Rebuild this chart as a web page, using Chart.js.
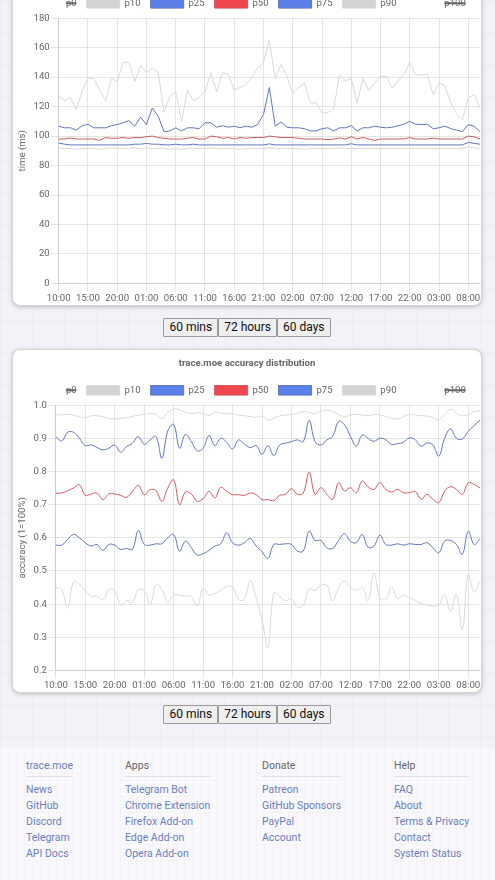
<!DOCTYPE html>
<html>
<head>
<meta charset="utf-8">
<script src="https://cdn.jsdelivr.net/npm/chart.js@4.4.0/dist/chart.umd.min.js"></script>
<style>
  body {
    margin: 0;
    font-family: Roboto, "Noto Sans", sans-serif;
    background-color: #f2f2f8;
    background-image:
      linear-gradient(rgba(0,0,0,0.018) 1px, transparent 1px),
      linear-gradient(90deg, rgba(0,0,0,0.018) 1px, transparent 1px);
    background-size: 32px 32px;
    overflow: hidden;
  }
  .wrap { margin: -38px 13px 0 12px; }
  .card {
    background: #fff;
    border: 1px solid #d4d4d4;
    border-radius: 8px;
    box-shadow: 0 1px 4px rgba(0,0,0,0.22);
    height: 342px;
    overflow: hidden;
  }
  .card canvas { display: block; }
  .btns { display: flex; justify-content: center; margin: 12px 0 12px 0; }
  .btns button {
    font-family: Roboto, sans-serif;
    font-size: 12px;
    color: #111;
    background: #efefef;
    border: 1px solid #9a9a9a;
    border-radius: 1px;
    height: 19px;
    padding: 0 5px;
    margin: 0;
    line-height: 17px;
  }
  .btns.last { margin-bottom: 24px; }
  footer {
    position: relative;
    height: 140px;
    background-color: #f9f9fd;
    background-image:
      linear-gradient(rgba(0,0,0,0.018) 1px, transparent 1px),
      linear-gradient(90deg, rgba(0,0,0,0.018) 1px, transparent 1px);
    background-size: 8px 8px;
  }
  .col { position: absolute; top: 11px; }
  .col h4 {
    margin: 0 0 5px 0;
    font-weight: 400;
    font-size: 10.5px;
    line-height: 14px;
    color: #666;
    padding-bottom: 3px;
    border-bottom: 1px solid #e0e0e8;
  }
  .col h4.brand { color: #6c7fb8; }
  .col a {
    display: block;
    font-size: 10.5px;
    line-height: 16px;
    color: #6c7fb8;
    text-decoration: none;
    white-space: nowrap;
  }
</style>
</head>
<body>
<div class="wrap">
  <div class="card"><canvas id="chartTime" width="468" height="342"></canvas></div>
  <div class="btns"><button>60 mins</button><button>72 hours</button><button>60 days</button></div>
  <div class="card"><canvas id="chartAccuracy" width="468" height="342"></canvas></div>
  <div class="btns last"><button>60 mins</button><button>72 hours</button><button>60 days</button></div>
</div>
<footer>
  <div class="col" style="left:26px">
    <h4 class="brand">trace.moe</h4>
    <a>News</a><a>GitHub</a><a>Discord</a><a>Telegram</a><a>API Docs</a>
  </div>
  <div class="col" style="left:125px">
    <h4>Apps</h4>
    <a>Telegram Bot</a><a>Chrome Extension</a><a>Firefox Add-on</a><a>Edge Add-on</a><a>Opera Add-on</a>
  </div>
  <div class="col" style="left:262px">
    <h4>Donate</h4>
    <a>Patreon</a><a>GitHub Sponsors</a><a>PayPal</a><a>Account</a>
  </div>
  <div class="col" style="left:394px">
    <h4>Help</h4>
    <a>FAQ</a><a>About</a><a>Terms &amp; Privacy</a><a>Contact</a><a>System Status</a>
  </div>
</footer>

<script>
// horas (eixo x) - 73 pontos, de 10:00 até 10:00 três dias depois
var horas = [
  '10:00','11:00','12:00','13:00','14:00','15:00','16:00','17:00','18:00','19:00','20:00','21:00','22:00','23:00',
  '00:00','01:00','02:00','03:00','04:00','05:00','06:00','07:00','08:00','09:00','10:00','11:00','12:00','13:00',
  '14:00','15:00','16:00','17:00','18:00','19:00','20:00','21:00','22:00','23:00','00:00','01:00','02:00','03:00',
  '04:00','05:00','06:00','07:00','08:00','09:00','10:00','11:00','12:00','13:00','14:00','15:00','16:00','17:00',
  '18:00','19:00','20:00','21:00','22:00','23:00','00:00','01:00','02:00','03:00','04:00','05:00','06:00','07:00',
  '08:00','09:00','10:00'
];

var percentis = ['p0', 'p10', 'p25', 'p50', 'p75', 'p90', 'p100'];

// primeiro gráfico - tempo (ms)
var tempo_p10 = [
  92, 91.5, 91.5, 91, 91.5, 91.5, 91.5, 91, 91.5, 92, 91.5, 91.5, 91.5, 92, 91.5, 92, 91.5, 91.5, 91.5, 91, 91.5,
  91, 91.5, 91.5, 91.5, 91.5, 92, 91.5, 91.5, 91.5, 91.5, 91, 91.5, 91.5, 91.5, 91.5, 92, 91.5, 91.5, 91.5, 91.5,
  91.5, 91, 91.5, 91.5, 91.5, 91.5, 91.5, 92, 91.5, 91.5, 91.5, 91.5, 91.5, 91.5, 91.5, 91.5, 91.5, 91.5, 91.5,
  91.5, 91.5, 91.5, 91.5, 91.5, 91.5, 91.5, 91.5, 91.5, 91.5, 92.5, 92, 91.5
];
var tempo_p25 = [
  95.2, 94.5, 94, 94, 94, 94, 94, 94, 94, 94, 94, 94, 94, 94.5, 94.5, 95, 94.5, 94.5, 94, 94, 94.5, 94, 94, 94.5,
  94, 94, 94, 94, 94, 94, 94, 94, 94, 94, 94, 94, 94.7, 94, 94, 94, 94, 94, 94, 94, 94, 94, 94, 94, 94, 94,
  94.8, 94, 94, 94, 94, 94, 94, 94, 94, 94, 94, 94, 94, 94, 94, 94, 94, 94, 94, 94, 95.7, 95, 94.5
];
var tempo_p50 = [
  98, 98, 98.7, 98, 98, 98, 98, 97, 99, 98.5, 98.5, 99, 98.5, 99, 99, 99.5, 100, 99, 98.5, 98, 98, 98, 98.5,
  99, 98, 98, 100, 99.5, 98.5, 99, 98, 99, 98.5, 99, 99, 99, 100, 99.5, 99, 99, 99, 98.5, 98, 98, 98, 98,
  97.5, 98, 98.7, 98, 99.5, 98, 99, 98, 97, 98, 98, 98, 98, 98, 99, 98, 98, 98, 98.5, 98, 98, 98, 98, 98,
  100, 99.5, 98
];
var tempo_p75 = [
  106.7, 105.6, 105.6, 104, 107, 108, 105.6, 105.6, 105.6, 107, 107.8, 109, 110.5, 106.7, 112.8, 107.8, 119,
  113.5, 103, 103.5, 105.6, 103.5, 105.6, 105.6, 105, 109, 109, 106, 107, 106, 106.7, 105.6, 106.7, 106, 107.8,
  114.6, 133, 106.7, 109.6, 106, 105.6, 105.6, 105, 103.5, 103.5, 105, 105.6, 103.5, 105.6, 105.6, 107, 103.5,
  105.6, 105.6, 106.7, 106, 105.6, 106, 107, 108, 110, 108, 107.8, 108, 105, 105.6, 106.7, 105, 104, 103,
  107.8, 106.7, 103
];
var tempo_p90 = [
  127, 124, 126, 118, 130, 139.5, 139, 131, 124, 139, 137, 150, 150, 137, 148, 143, 146, 143, 116, 127, 130,
  110, 131, 124, 126, 130, 143, 130, 143, 142, 131, 133, 135, 140, 146, 150, 165, 139, 148.5, 140.5, 129, 133,
  136, 122.5, 122.5, 115.5, 116, 118, 142, 137.5, 139, 122.5, 139, 131, 136, 140.5, 140.5, 132.5, 137.5,
  141.5, 150, 141.5, 141.5, 142, 128, 136, 134, 122.5, 115, 111, 126, 128, 119
];

// segundo gráfico - precisão (1 = 100%)
var precisao_p10 = [
  .451, .444, .387, .467, .46, .441, .424, .424, .414, .444, .441, .397, .411, .405, .444, .441, .399, .46,
  .444, .405, .427, .427, .424, .424, .394, .447, .427, .432, .441, .454, .451, .414, .414, .471, .42, .354,
  .269, .434, .424, .41, .417, .391, .397, .447, .441, .457, .457, .41, .45, .47, .451, .441, .451, .41, .495,
  .42, .414, .45, .417, .427, .42, .411, .401, .397, .394, .397, .43, .377, .43, .324, .49, .437, .47
];
var precisao_p25 = [
  .578, .578, .595, .61, .60, .585, .575, .58, .562, .58, .578, .565, .568, .565, .622, .58, .578, .582, .582,
  .60, .61, .56, .59, .57, .548, .552, .562, .575, .582, .615, .585, .578, .585, .598, .575, .558, .538, .58,
  .58, .582, .58, .56, .56, .62, .592, .592, .57, .568, .592, .612, .59, .585, .61, .572, .575, .608, .58,
  .578, .582, .578, .582, .58, .58, .585, .57, .555, .59, .592, .58, .55, .62, .58, .598
];
var precisao_p50 = [
  .735, .735, .742, .75, .76, .728, .732, .735, .715, .732, .732, .728, .722, .74, .758, .73, .745, .742, .71,
  .75, .775, .70, .738, .732, .71, .718, .74, .72, .752, .74, .73, .73, .728, .735, .73, .715, .715, .712, .728,
  .731, .748, .731, .735, .798, .731, .751, .731, .716, .766, .741, .751, .736, .771, .754, .746, .766, .746,
  .738, .746, .736, .736, .74, .716, .731, .716, .706, .741, .754, .746, .731, .766, .761, .751
];
var precisao_p75 = [
  .905, .892, .918, .918, .90, .878, .88, .872, .865, .87, .88, .858, .875, .885, .905, .882, .895, .905, .84,
  .922, .942, .87, .912, .89, .862, .87, .908, .878, .90, .888, .868, .895, .882, .872, .878, .852, .878, .848,
  .88, .885, .89, .895, .89, .954, .89, .88, .895, .906, .951, .941, .906, .876, .91, .90, .891, .90, .896,
  .881, .884, .888, .901, .896, .876, .886, .88, .846, .90, .928, .90, .898, .921, .938, .955
];
var precisao_p90 = [
  .972, .970, .973, .970, .965, .962, .968, .968, .965, .960, .958, .960, .962, .966, .970, .972, .975, .972,
  .960, .978, .988, .986, .978, .975, .977, .975, .968, .978, .976, .973, .975, .970, .968, .966, .963, .967,
  .955, .960, .968, .970, .972, .975, .980, .978, .974, .982, .985, .980, .972, .965, .970, .972, .970, .968,
  .972, .970, .966, .960, .958, .965, .972, .970, .968, .967, .962, .955, .972, .988, .975, .968, .972, .980, .983
];

// cores de cada percentil (linha e quadrado da legenda)
var corLinha = ['rgba(0,0,0,0)', '#d9d9d9', '#6176ba', '#d0585e', '#6176ba', '#d9d9d9', 'rgba(0,0,0,0)'];
var corLegenda = ['rgba(0,0,0,0)', '#d3d3d3', '#5b80ea', '#f0474f', '#5b80ea', '#d3d3d3', 'rgba(0,0,0,0)'];

Chart.defaults.font.family = 'Roboto, sans-serif';
Chart.defaults.font.size = 9.6;
Chart.defaults.color = '#666';

function montarDatasets(valores, curva) {
  var datasets = [];
  for (var i = 0; i < percentis.length; i++) {
    datasets.push({
      label: percentis[i],
      data: valores[i],
      hidden: percentis[i] == 'p0' || percentis[i] == 'p100',
      borderColor: corLinha[i],
      backgroundColor: corLegenda[i],
      borderWidth: 1,
      pointRadius: 0,
      fill: false,
      tension: curva ? 0.4 : 0
    });
  }
  return datasets;
}

function configurar(titulo, tituloY, min, max, passo, valores, curva) {
  return {
    type: 'line',
    data: {
      labels: horas,
      datasets: montarDatasets(valores, curva)
    },
    options: {
      responsive: false,
      animation: false,
      events: [],
      layout: { padding: 0 },
      plugins: {
        title: {
          display: true,
          text: titulo,
          color: '#666',
          font: { size: 9.6, weight: 'bold' },
          padding: { top: 8, bottom: 6 }
        },
        legend: {
          labels: {
            boxWidth: 33,
            boxHeight: 9.6,
            padding: 10,
            color: '#666'
          }
        },
        tooltip: { enabled: false }
      },
      scales: {
        x: {
          grid: {
            // só mostra a linha nas horas com rótulo (a cada 5 horas)
            color: function (ctx) { return ctx.index % 5 == 0 ? 'rgba(0,0,0,0.1)' : 'rgba(0,0,0,0)'; },
            tickLength: 8
          },
          border: { color: 'rgba(0,0,0,0.1)' },
          ticks: {
            autoSkip: false,
            maxRotation: 0,
            minRotation: 0,
            padding: 1,
            callback: function (valor, indice) { return indice % 5 == 0 ? horas[indice] : ''; }
          }
        },
        y: {
          min: min,
          max: max,
          grid: { color: 'rgba(0,0,0,0.1)', tickLength: 8 },
          border: { color: 'rgba(0,0,0,0.1)' },
          ticks: { stepSize: passo, padding: 1 },
          title: { display: true, text: tituloY, color: '#666', padding: { top: 4, bottom: 4 } }
        }
      }
    }
  };
}

new Chart(
  document.getElementById('chartTime'),
  configurar('trace.moe search time distribution', 'time (ms)', 0, 180, 20,
    [[], tempo_p10, tempo_p25, tempo_p50, tempo_p75, tempo_p90, []], false)
);

new Chart(
  document.getElementById('chartAccuracy'),
  configurar('trace.moe accuracy distribution', 'accuracy (1=100%)', 0.2, 1.0, 0.1,
    [[], precisao_p10, precisao_p25, precisao_p50, precisao_p75, precisao_p90, []], true)
);
</script>
</body>
</html>
